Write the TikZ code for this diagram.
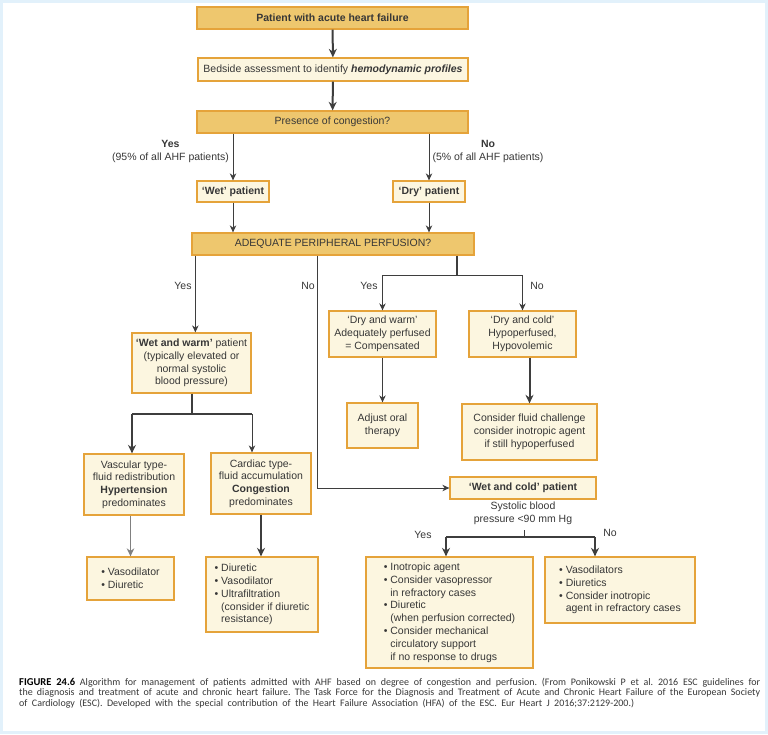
\documentclass[tikz,border=0pt]{standalone}
\usepackage{fontspec}
\setmainfont{Liberation Sans}
\newfontfamily\capfont{Carlito}
\usetikzlibrary{arrows.meta}
\definecolor{darkgold}{RGB}{238,199,110}
\definecolor{palegold}{RGB}{252,246,224}
\definecolor{boxedge}{RGB}{229,163,58}
\definecolor{inkgray}{RGB}{55,55,55}
\definecolor{linegray}{RGB}{62,62,62}
\definecolor{framblue}{RGB}{226,241,251}
\frenchspacing
\begin{document}
\begin{tikzpicture}[x=1pt,y=1pt]
	\tikzstyle{every node}+=[inner sep=0pt, text=inkgray, align=center, font=\fontsize{10.5}{12.8}\selectfont]
	\tikzstyle{darkbox}=[draw=boxedge, line width=1.3pt, fill=darkgold]
	\tikzstyle{palebox}=[draw=boxedge, line width=1.3pt, fill=palegold]
	\tikzstyle{flow}=[draw=linegray, line width=0.9pt, -{Stealth[length=7pt,width=6.5pt]}]
	\tikzstyle{flowbold}=[draw=linegray, line width=2pt, -{Stealth[length=8.5pt,width=8pt]}]
	\tikzstyle{flowgrey}=[draw=gray, line width=1.8pt, -{Stealth[length=8pt,width=7.5pt]}]
	\tikzstyle{joint}=[draw=linegray, line width=2pt]
	\tikzstyle{captext}=[anchor=base west, text=inkgray, font=\capfont\fontsize{10}{11}\selectfont]
	\useasboundingbox (0,0) rectangle (768,-734);
	\draw [framblue, line width=3pt] (1.5,-1.5) rectangle (766.5,-732.5);
	% top of the chart
	\node [darkbox, minimum width=271pt, minimum height=22pt] (start) at (332.5,-18) {\textbf{Patient with acute heart failure}};
	\node [palebox, minimum width=270pt, minimum height=23pt] (assess) at (333,-69.5) {Bedside assessment to identify \textbf{\textit{hemodynamic profiles}}};
	\node [darkbox, minimum width=271pt, minimum height=22pt] (congest) at (332.5,-122) {Presence of congestion?};
	\node [palebox, minimum width=72pt, minimum height=21pt] (wet) at (233,-191.5) {\textbf{‘Wet’ patient}};
	\node [palebox, minimum width=72pt, minimum height=21pt] (dry) at (429,-191.5) {\textbf{‘Dry’ patient}};
	\node (yescong) at (170.5,-151.5) {\textbf{Yes}\\(95\% of all AHF patients)};
	\node (nocong) at (488,-151.5) {\textbf{No}\\(5\% of all AHF patients)};
	\node [darkbox, minimum width=282pt, minimum height=22pt] (perf) at (333,-244) {ADEQUATE PERIPHERAL PERFUSION?};
	% middle row
	\node [palebox, minimum width=119pt, minimum height=60pt] (wetwarm) at (191.5,-363) {\textbf{‘Wet and warm’} patient\\(typically elevated or\\normal systolic\\blood pressure)};
	\node [palebox, minimum width=107pt, minimum height=46pt] (drywarm) at (382.5,-334) {‘Dry and warm’\\Adequately perfused\\= Compensated};
	\node [palebox, minimum width=107pt, minimum height=46pt] (drycold) at (522.5,-334) {‘Dry and cold’\\Hypoperfused,\\Hypovolemic};
	\node [palebox, minimum width=71pt, minimum height=45pt] (oral) at (382.5,-425.5) {Adjust oral\\therapy};
	\node [palebox, minimum width=135pt, minimum height=56pt] (fluid) at (529.5,-432) {Consider fluid challenge\\consider inotropic agent\\if still hypoperfused};
	\node (yeswarm) at (183,-286) {Yes};
	\node (noperf) at (308,-286) {No};
	\node (yesdry) at (369,-286) {Yes};
	\node (nodry) at (537,-286) {No};
	% lower left
	\node [palebox, minimum width=100pt, minimum height=61pt] (vasc) at (134,-484.5) {Vascular type-\\fluid redistribution\\\textbf{Hypertension}\\predominates};
	\node [palebox, minimum width=100pt, minimum height=61pt] (card) at (261,-483.5) {Cardiac type-\\fluid accumulation\\\textbf{Congestion}\\predominates};
	\node [palebox, minimum width=87pt, minimum height=43pt, align=left] (vasodil) at (130.5,-578.5) {\textbullet~Vasodilator\\\textbullet~Diuretic};
	\node [palebox, minimum width=112pt, minimum height=75pt, align=left] (diur) at (262,-594.5) {\textbullet~Diuretic\\\textbullet~Vasodilator\\\textbullet~Ultrafiltration\\\hphantom{\textbullet~}(consider if diuretic\\\hphantom{\textbullet~}resistance)};
	% lower right
	\node [palebox, minimum width=146pt, minimum height=22pt] (wetcold) at (523,-488) {\textbf{‘Wet and cold’ patient}};
	\node (sbp) at (523,-513.5) {Systolic blood\\pressure <90 mm Hg};
	\node (yescold) at (423,-535) {Yes};
	\node (nocold) at (610,-533) {No};
	\node [palebox, minimum width=167pt, minimum height=111pt, align=left] (inotrop) at (449.5,-612.5) {\textbullet~Inotropic agent\\\textbullet~Consider vasopressor\\\hphantom{\textbullet~}in refractory cases\\\textbullet~Diuretic\\\hphantom{\textbullet~}(when perfusion corrected)\\\textbullet~Consider mechanical\\\hphantom{\textbullet~}circulatory support\\\hphantom{\textbullet~}if no response to drugs};
	\node [palebox, minimum width=150pt, minimum height=66pt, align=left] (vasodils) at (620,-590) {\textbullet~Vasodilators\\\textbullet~Diuretics\\\textbullet~Consider inotropic\\\hphantom{\textbullet~}agent in refractory cases};
	% bend points
	\coordinate (nobend) at (317,-488);
	\coordinate (rsplit) at (457,-275);
	\coordinate (lsplitL) at (132,-414);
	\coordinate (lsplitR) at (252,-414);
	\coordinate (bsplit) at (524,-530);
	\coordinate (bsplitL) at (446,-537);
	\coordinate (bsplitR) at (595,-537);
	% connectors
	\draw [flowbold] (start) -- (assess);
	\draw [flowbold] (assess) -- (congest);
	\draw [flow] (congest.south -| wet.north) -- (wet.north);
	\draw [flow] (congest.south -| dry.north) -- (dry.north);
	\draw [flow] (wet.south) -- (wet.south |- perf.north);
	\draw [flow] (dry.south) -- (dry.south |- perf.north);
	\draw [flow] ([xshift=4pt]perf.south west) -- ([xshift=4pt]perf.south west |- wetwarm.north);
	\draw [flow] (perf.south -| nobend) -- (nobend) -- (wetcold.west);
	\draw [joint] (perf.south -| rsplit) -- (rsplit);
	\draw [flow] (rsplit) -| (drywarm.north);
	\draw [flow] (rsplit) -| (drycold.north);
	\draw [flow] (drywarm) -- (oral);
	\draw [flowbold] (drycold.south -| fluid.north) -- (fluid.north);
	\draw [joint] (wetwarm.south) -- (wetwarm.south |- lsplitL);
	\draw [joint] (lsplitL) -- (lsplitR);
	\draw [flowbold] (lsplitL) -- (lsplitL |- vasc.north);
	\draw [flow] (lsplitR) -- (lsplitR |- card.north);
	\draw [flowgrey] (vasc.south -| vasodil.north) -- (vasodil.north);
	\draw [flowbold] (card.south) -- (card.south |- diur.north);
	\draw [draw=linegray, line width=0.9pt] (bsplit) -- (bsplit |- bsplitL);
	\draw [joint] (bsplitL) -- (bsplitR);
	\draw [flowbold] (bsplitL) -- (bsplitL |- inotrop.north);
	\draw [flowbold] (bsplitR) -- (bsplitR |- vasodils.north);
	% caption
	\node [captext] (cap1) at (19,-685) {\makebox[741pt][s]{{\color{black}\fontsize{10.5}{11}\selectfont\textbf{FIGURE 24.6}} Algorithm for management of patients admitted with AHF based on degree of congestion and perfusion. (From Ponikowski P et al. 2016 ESC guidelines for}};
	\node [captext] (cap2) at (19,-695.7) {\makebox[741pt][s]{the diagnosis and treatment of acute and chronic heart failure. The Task Force for the Diagnosis and Treatment of Acute and Chronic Heart Failure of the European Society}};
	\node [captext] (cap3) at (19,-706.4) {\makebox[615pt][s]{of Cardiology (ESC). Developed with the special contribution of the Heart Failure Association (HFA) of the ESC. Eur Heart J 2016;37:2129-200.)}};
\end{tikzpicture}
\end{document}
